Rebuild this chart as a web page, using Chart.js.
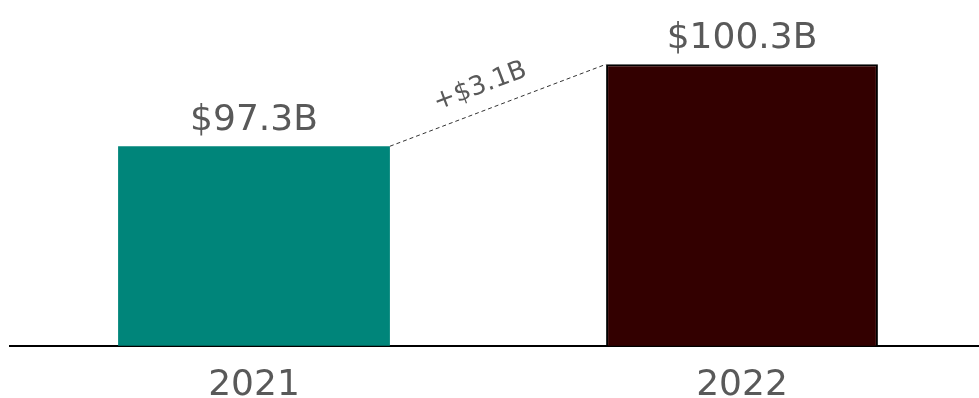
<!DOCTYPE html>
<html>
<head>
<meta charset="utf-8">
<script src="https://cdn.jsdelivr.net/npm/chart.js@4"></script>
<style>
  html, body { margin: 0; padding: 0; background: #fff; overflow: hidden; }
  #wrap { width: 986px; height: 425px; }
</style>
</head>
<body>
<div id="wrap"><canvas id="revenueChart"></canvas></div>
<script>
// 年度與營收（十億美元）
var years = ['2021', '2022'];
var revenue = [97.3, 100.3];
var valueLabels = ['$97.3B', '$100.3B'];
var deltaLabel = '+$3.1B';
var barColors = ['#00857a', '#330000'];
var barBorders = ['#00857a', '#000000'];

var textColor = '#595959';
var fontFamily = 'Verdana, "DejaVu Sans", sans-serif';

// 柱頂數值標籤
var valueLabelPlugin = {
  id: 'valueLabels',
  afterDatasetsDraw: function(chart) {
    var ctx = chart.ctx;
    var meta = chart.getDatasetMeta(0);
    ctx.save();
    ctx.fillStyle = textColor;
    ctx.font = '36px ' + fontFamily;
    ctx.textAlign = 'center';
    ctx.textBaseline = 'alphabetic';
    meta.data.forEach(function(bar, i) {
      ctx.fillText(valueLabels[i], bar.x, bar.y - 16);
    });
    ctx.restore();
  }
};

// 兩柱之間的虛線與差額
var deltaPlugin = {
  id: 'deltaLine',
  afterDatasetsDraw: function(chart) {
    var ctx = chart.ctx;
    var meta = chart.getDatasetMeta(0);
    var a = meta.data[0], b = meta.data[1];
    var x1 = a.x + a.width / 2, y1 = a.y;
    var x2 = b.x - b.width / 2, y2 = b.y;
    ctx.save();
    ctx.strokeStyle = '#333333';
    ctx.lineWidth = 1;
    ctx.setLineDash([4, 3]);
    ctx.beginPath();
    ctx.moveTo(x1, y1);
    ctx.lineTo(x2, y2);
    ctx.stroke();
    ctx.setLineDash([]);
    var angle = Math.atan2(y2 - y1, x2 - x1);
    ctx.translate((x1 + x2) / 2, (y1 + y2) / 2);
    ctx.rotate(angle);
    ctx.fillStyle = textColor;
    ctx.font = '26px ' + fontFamily;
    ctx.textAlign = 'center';
    ctx.textBaseline = 'alphabetic';
    ctx.fillText(deltaLabel, -10, -17);
    ctx.restore();
  }
};

var ctx = document.getElementById('revenueChart').getContext('2d');
var revenueChart = new Chart(ctx, {
  type: 'bar',
  data: {
    labels: years,
    datasets: [{
      data: revenue,
      backgroundColor: barColors,
      borderColor: barBorders,
      borderWidth: [0, 2],
      borderSkipped: false,
      barPercentage: 0.557,
      categoryPercentage: 1
    }]
  },
  options: {
    responsive: true,
    maintainAspectRatio: false,
    animation: false,
    layout: { padding: { left: 10, right: 0, top: 0, bottom: 0 } },
    plugins: {
      legend: { display: false },
      tooltip: { enabled: false },
      title: { display: false }
    },
    scales: {
      x: {
        grid: { display: false, drawTicks: false },
        border: { display: true, color: '#000000', width: 2 },
        ticks: {
          color: textColor,
          font: { family: fontFamily, size: 36 },
          padding: 18
        }
      },
      y: {
        display: false,
        min: 90,
        max: 102.65
      }
    }
  },
  plugins: [valueLabelPlugin, deltaPlugin]
});
</script>
</body>
</html>
